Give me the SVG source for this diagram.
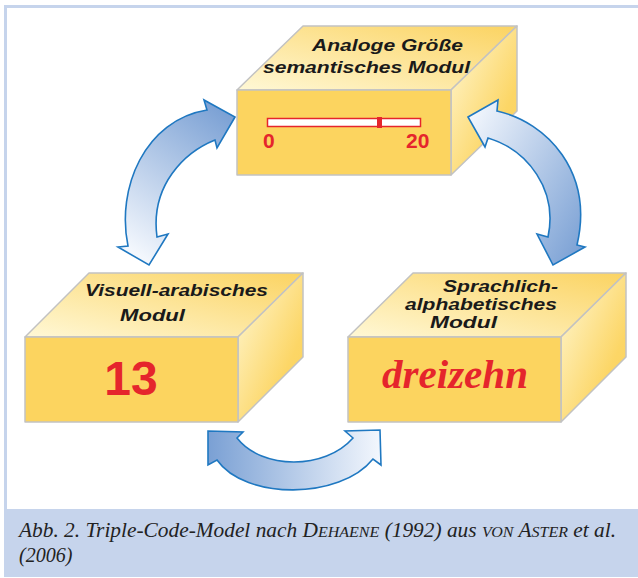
<svg xmlns="http://www.w3.org/2000/svg" width="638" height="578" viewBox="0 0 638 578">
<style>
.front{fill:#fcd45f;stroke:#c2c2c2;stroke-width:1.5;stroke-linejoin:round}
.top{fill:url(#topGrad);stroke:#c2c2c2;stroke-width:1.5;stroke-linejoin:round}
.side{fill:url(#sideGrad);stroke:#c2c2c2;stroke-width:1.5;stroke-linejoin:round}
.lbl{font-family:"Liberation Sans",Arial,sans-serif;font-weight:bold;font-style:italic;font-size:16px;fill:#1a1a1a}
.red{fill:#e5252c}
.arrow{stroke:#1f78c1;stroke-width:1.6;stroke-linejoin:miter}
.cap{font-family:"Liberation Serif","Times New Roman",serif;font-style:italic;font-size:20px;fill:#222}
</style>
<defs>
<linearGradient id="topGrad" x1="0" y1="1" x2="1" y2="0">
<stop offset="0" stop-color="#fff8d6"/>
<stop offset="1" stop-color="#fbd361"/>
</linearGradient>
<linearGradient id="sideGrad" x1="0" y1="0" x2="1" y2="1">
<stop offset="0" stop-color="#fff8d6"/>
<stop offset="0.7" stop-color="#fcd666"/>
<stop offset="1" stop-color="#fbd25c"/>
</linearGradient>
<linearGradient id="gTL" x1="0.8" y1="0" x2="0.3" y2="1">
<stop offset="0" stop-color="#7aa0d4"/>
<stop offset="1" stop-color="#f3f7fd"/>
</linearGradient>
<linearGradient id="gR" x1="0" y1="0.1" x2="1" y2="0.9">
<stop offset="0" stop-color="#f3f7fd"/>
<stop offset="1" stop-color="#7aa0d4"/>
</linearGradient>
<linearGradient id="gB" x1="0" y1="0" x2="1" y2="0">
<stop offset="0" stop-color="#7aa0d4"/>
<stop offset="1" stop-color="#f3f7fd"/>
</linearGradient>
</defs>

<rect x="0" y="0" width="638" height="578" fill="#ffffff"/>
<g id="frame">
<rect x="4" y="5" width="634" height="3" fill="#c6d4ec"/>
<rect x="4" y="5" width="3" height="505" fill="#c6d4ec"/>
<rect x="4" y="509" width="634" height="68" fill="#c6d4ec"/>
</g>

<g id="node-analog">
<polygon class="top" points="237,90 303,26 517,26 451,90"/>
<polygon class="side" points="451,90 517,26 517,111 451,175"/>
<rect class="front" x="237" y="90" width="214" height="85"/>
<text class="lbl" x="312" y="51" textLength="151" lengthAdjust="spacingAndGlyphs">Analoge Größe</text>
<text class="lbl" x="263" y="73" textLength="207" lengthAdjust="spacingAndGlyphs">semantisches Modul</text>
<rect x="267.5" y="118.5" width="153" height="8" fill="#ffffff" stroke="#e5252c" stroke-width="1.5"/>
<rect x="377" y="117" width="5" height="11" fill="#e5252c"/>
<text class="red" x="263" y="148" font-family="'Liberation Sans',Arial,sans-serif" font-weight="bold" font-size="21">0</text>
<text class="red" x="406" y="148" font-family="'Liberation Sans',Arial,sans-serif" font-weight="bold" font-size="21">20</text>
</g>

<g id="node-visual">
<polygon class="top" points="25,337 89,273 303,273 238,337"/>
<polygon class="side" points="238,337 303,273 303,357 238,422"/>
<rect class="front" x="25" y="337" width="213" height="85"/>
<text class="lbl" x="85" y="296" textLength="183" lengthAdjust="spacingAndGlyphs">Visuell-arabisches</text>
<text class="lbl" x="120" y="321" textLength="65" lengthAdjust="spacingAndGlyphs">Modul</text>
<text class="red" x="131" y="395" text-anchor="middle" font-family="'Liberation Sans',Arial,sans-serif" font-weight="bold" font-size="48">13</text>
</g>

<g id="node-verbal">
<polygon class="top" points="348,337 413,273 626,273 561,337"/>
<polygon class="side" points="561,337 626,273 626,357 561,422"/>
<rect class="front" x="348" y="337" width="213" height="85"/>
<text class="lbl" x="443" y="292" textLength="115" lengthAdjust="spacingAndGlyphs">Sprachlich-</text>
<text class="lbl" x="405" y="310" textLength="152" lengthAdjust="spacingAndGlyphs">alphabetisches</text>
<text class="lbl" x="430" y="328" textLength="67" lengthAdjust="spacingAndGlyphs">Modul</text>
<text class="red" x="382" y="388" textLength="146" lengthAdjust="spacingAndGlyphs" font-family="'Liberation Serif','Times New Roman',serif" font-weight="bold" font-style="italic" font-size="40">dreizehn</text>
</g>

<g id="connectors">
<path class="arrow" fill="url(#gTL)" d="M235,117 L217,148 L215,140 C185,152 150,185 157,237 L168,234 L149,265 L118,247 L128,246 C116,188 145,120 207,110 L204,100 Z"/>
<path class="arrow" fill="url(#gR)" d="M468,117 L498,100 L497,111 C547,122 594,172 577,245 L585,247 L553,265 L537,234 L548,237 C558,190 528,150 488,138 L485,147 Z"/>
<path class="arrow" fill="url(#gB)" d="M208,431 L243,432 L237,438 C262,470 325,470 353,438 L345,431 L380,430 L381,465 L373,459 C340,500 245,500 217,460 L208,465 Z"/>
</g>

<g id="caption">
<text class="cap" x="19" y="537" textLength="597" lengthAdjust="spacingAndGlyphs">Abb. 2. Triple-Code-Model nach D<tspan font-size="15">EHAENE</tspan> (1992) aus <tspan font-size="15">VON</tspan> A<tspan font-size="15">STER</tspan> et al.</text>
<text class="cap" x="19" y="562">(2006)</text>
</g>
</svg>
